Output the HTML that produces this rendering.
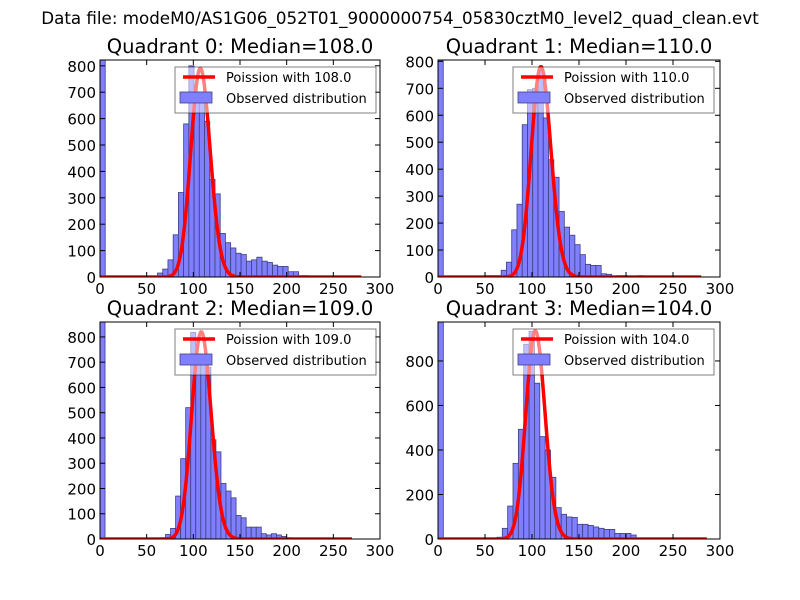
<!DOCTYPE html>
<html><head><meta charset="utf-8"><style>
html,body{margin:0;padding:0;background:#fff;width:800px;height:600px;overflow:hidden}
svg{font-family:"DejaVu Sans","Liberation Sans",sans-serif}
</style></head><body>
<svg id="fig" width="800" height="600" xmlns="http://www.w3.org/2000/svg">
<rect width="800" height="600" fill="#fff"/>
<text x="400" y="24" font-size="16.7" text-anchor="middle">Data file: modeM0/AS1G06_052T01_9000000754_05830cztM0_level2_quad_clean.evt</text>
</svg>
<script>
const medians = [108, 110, 109, 104];
const binWidths = [5.6, 5.6, 5.4, 5.7];
const curveEnds = [280, 280, 270, 286];
const yMaxes = [822, 805, 859, 975];
const yTickSteps = [100, 100, 100, 200];
const poissonPeaks = [790, 780, 820, 935];
const xTicks = [0, 50, 100, 150, 200, 250, 300];
const counts0 = [900,0,0,0,0,0,0,0,0,0,0,15,30,65,160,320,580,800,700,700,590,370,315,165,130,110,90,85,60,65,75,60,55,45,40,40,20,20,5,5,0,0,0,0,0,0,0,0,0,0];
const counts1 = [900,0,0,0,0,0,0,0,0,5,5,5,25,55,175,270,565,695,700,765,590,435,370,243,185,155,120,83,47,43,43,12,10,3,5,5,0,0,5,0,0,0,0,0,0,0,0,0,0,0];
const counts2 = [950,0,0,0,0,0,0,0,0,0,0,0,5,18,42,170,318,520,818,733,700,680,393,345,220,190,163,93,84,47,47,47,21,16,21,16,10,5,0,0,0,0,0,0,0,0,0,0,0,0];
const counts3 = [1000,0,0,0,0,0,0,0,0,5,5,8,48,148,340,493,875,933,700,460,400,277,141,111,99,97,66,66,61,54,48,43,43,25,25,25,18,0,0,0,0,0,0,0,0,0,0,0,0,0];
const allCounts = [counts0, counts1, counts2, counts3];

const NS = "http://www.w3.org/2000/svg";
const svg = document.getElementById('fig');
function mk(tag, attrs, parent){const e=document.createElementNS(NS,tag);for(const k in attrs)e.setAttribute(k,attrs[k]);(parent||svg).appendChild(e);return e;}
function lgamma(z){const g=7,c=[0.99999999999980993,676.5203681218851,-1259.1392167224028,771.32342877765313,-176.61502916214059,12.507343278686905,-0.13857109526572012,9.9843695780195716e-6,1.5056327351493116e-7];
 z-=1;let x=c[0];for(let i=1;i<g+2;i++)x+=c[i]/(z+i);const t=z+g+0.5;return 0.5*Math.log(2*Math.PI)+(z+0.5)*Math.log(t)-t+Math.log(x);}
const boxes = [[100,60,380,277],[438,60,720,277],[100,322,380,539],[438,322,720,539]];
for(let q=0;q<4;q++){
 const [L,T,R,B]=boxes[q];
 const g=mk('g',{});
 
 
 const xs=v=>L+(v/300)*(R-L);
 const ys=v=>B-(v/yMaxes[q])*(B-T);
 const clipId='clip'+q;
 const cp=mk('clipPath',{id:clipId},g);mk('rect',{x:L,y:T,width:R-L,height:B-T},cp);
 const plot=mk('g',{'clip-path':'url(#'+clipId+')'},g);
 const cs=allCounts[q], w=binWidths[q];
 cs.forEach((c,i)=>{ if(c<=0) return;
  const r=mk('rect',{x:xs(i*w),y:ys(c),width:xs(w)-xs(0),height:B-ys(c),fill:'#7f7fff',stroke:'#3f3f7f','stroke-width':0.8},plot);
  
  
 });
 const mu=medians[q]; const peakPmf=Math.exp(-mu+Math.floor(mu)*Math.log(mu)-lgamma(Math.floor(mu)+1));
 const scale=poissonPeaks[q]/peakPmf; let d='';
 for(let k=0;k<=curveEnds[q];k++){const p=Math.exp(-mu+k*Math.log(mu)-lgamma(k+1))*scale;d+=(k?'L':'M')+xs(k).toFixed(2)+','+ys(p).toFixed(2);}
 const pl=mk('path',{d:d,fill:'none',stroke:'#ff0000','stroke-width':3.5,'stroke-linejoin':'round'},plot);
 
 
 mk('rect',{x:L,y:T,width:R-L,height:B-T,fill:'none',stroke:'#000','stroke-width':1},g);
 xTicks.forEach(v=>{const x=xs(v);
  mk('line',{x1:x,y1:B,x2:x,y2:B-5,stroke:'#000'},g);mk('line',{x1:x,y1:T,x2:x,y2:T+5,stroke:'#000'},g);
  const t=mk('text',{x:x,y:B+17,'font-size':15,'text-anchor':'middle'},g);t.textContent=v;
  
  
 });
 for(let v=0;v<=yMaxes[q];v+=yTickSteps[q]){const y=ys(v);
  mk('line',{x1:L,y1:y,x2:L+5,y2:y,stroke:'#000'},g);mk('line',{x1:R,y1:y,x2:R-5,y2:y,stroke:'#000'},g);
  const t=mk('text',{x:L-4,y:y+6,'font-size':15,'text-anchor':'end'},g);t.textContent=v;
  
  
 }
 const tt=mk('text',{x:(L+R)/2,y:T-7,'font-size':19.5,'text-anchor':'middle'},g);
 tt.textContent='Quadrant '+q+': Median='+mu.toFixed(1);
 
 
 const lg=mk('g',{},g);
 
 
 const lx=L+75, ly=T+7;
 mk('rect',{x:lx,y:ly,width:201,height:46,fill:'#fff','fill-opacity':0.5,stroke:'#000','stroke-opacity':0.5,'stroke-width':1},lg);
 mk('line',{x1:lx+8,y1:ly+10,x2:lx+40,y2:ly+10,stroke:'#ff0000','stroke-width':3.5},lg);
 mk('rect',{x:lx+5,y:ly+25,width:32,height:11,fill:'#7f7fff',stroke:'#3f3f7f','stroke-width':0.8},lg);
 const t1=mk('text',{x:lx+51,y:ly+15,'font-size':13},lg);t1.textContent='Poission with '+mu.toFixed(1);
 
 
 const t2=mk('text',{x:lx+51,y:ly+36,'font-size':13},lg);t2.textContent='Observed distribution';
 
 
}
</script>
</body></html>
